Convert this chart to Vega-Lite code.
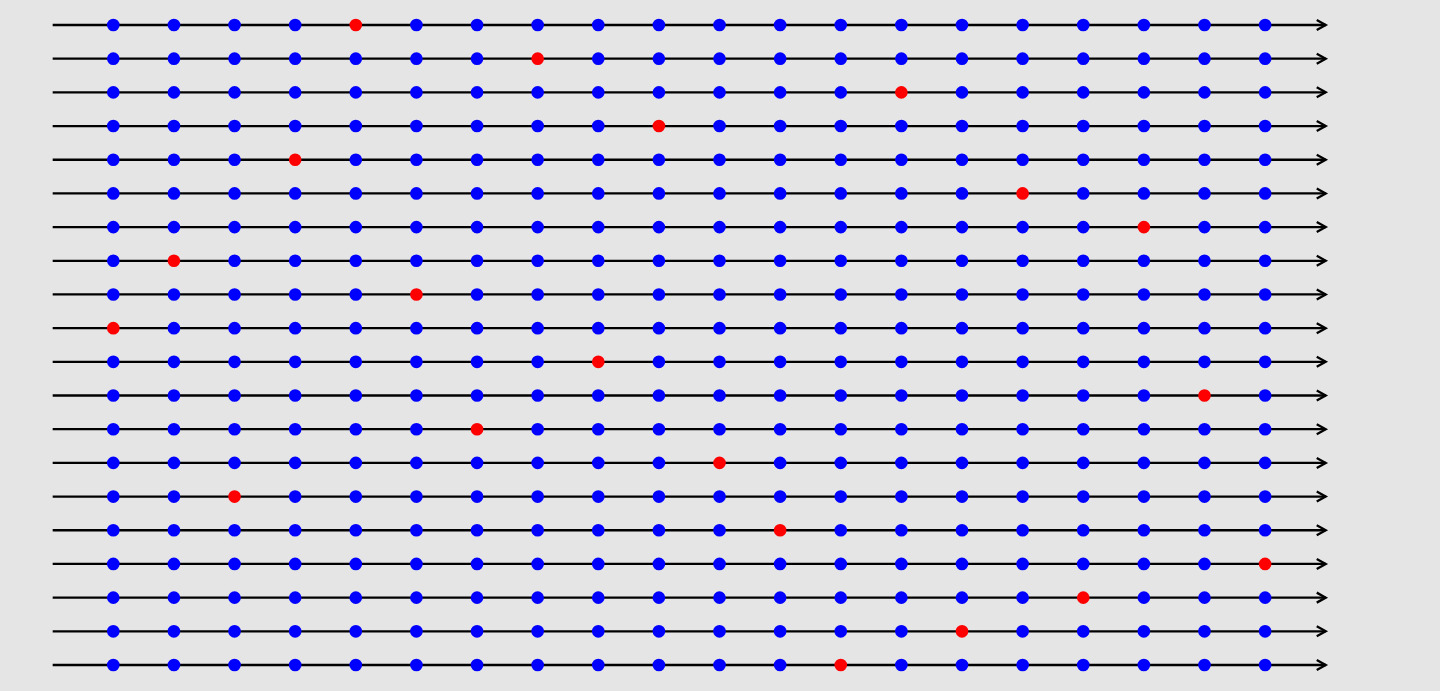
{
  "$schema": "https://vega.github.io/schema/vega-lite/v6.json",
  "width": 1440,
  "height": 691,
  "autosize": {"type": "fit", "contains": "padding"},
  "padding": 0,
  "background": "#e5e5e5",
  "config": {"view": {"stroke": null, "fill": "#e5e5e5"}},
  "datasets": {
    "lines": [{"r":1},{"r":2},{"r":3},{"r":4},{"r":5},{"r":6},{"r":7},{"r":8},{"r":9},{"r":10},{"r":11},{"r":12},{"r":13},{"r":14},{"r":15},{"r":16},{"r":17},{"r":18},{"r":19},{"r":20}],
    "pts": [
{"r":1,"c":1,"k":"b"},{"r":1,"c":2,"k":"b"},{"r":1,"c":3,"k":"b"},{"r":1,"c":4,"k":"b"},{"r":1,"c":5,"k":"r"},{"r":1,"c":6,"k":"b"},{"r":1,"c":7,"k":"b"},{"r":1,"c":8,"k":"b"},{"r":1,"c":9,"k":"b"},{"r":1,"c":10,"k":"b"},{"r":1,"c":11,"k":"b"},{"r":1,"c":12,"k":"b"},{"r":1,"c":13,"k":"b"},{"r":1,"c":14,"k":"b"},{"r":1,"c":15,"k":"b"},{"r":1,"c":16,"k":"b"},{"r":1,"c":17,"k":"b"},{"r":1,"c":18,"k":"b"},{"r":1,"c":19,"k":"b"},{"r":1,"c":20,"k":"b"},
{"r":2,"c":1,"k":"b"},{"r":2,"c":2,"k":"b"},{"r":2,"c":3,"k":"b"},{"r":2,"c":4,"k":"b"},{"r":2,"c":5,"k":"b"},{"r":2,"c":6,"k":"b"},{"r":2,"c":7,"k":"b"},{"r":2,"c":8,"k":"r"},{"r":2,"c":9,"k":"b"},{"r":2,"c":10,"k":"b"},{"r":2,"c":11,"k":"b"},{"r":2,"c":12,"k":"b"},{"r":2,"c":13,"k":"b"},{"r":2,"c":14,"k":"b"},{"r":2,"c":15,"k":"b"},{"r":2,"c":16,"k":"b"},{"r":2,"c":17,"k":"b"},{"r":2,"c":18,"k":"b"},{"r":2,"c":19,"k":"b"},{"r":2,"c":20,"k":"b"},
{"r":3,"c":1,"k":"b"},{"r":3,"c":2,"k":"b"},{"r":3,"c":3,"k":"b"},{"r":3,"c":4,"k":"b"},{"r":3,"c":5,"k":"b"},{"r":3,"c":6,"k":"b"},{"r":3,"c":7,"k":"b"},{"r":3,"c":8,"k":"b"},{"r":3,"c":9,"k":"b"},{"r":3,"c":10,"k":"b"},{"r":3,"c":11,"k":"b"},{"r":3,"c":12,"k":"b"},{"r":3,"c":13,"k":"b"},{"r":3,"c":14,"k":"r"},{"r":3,"c":15,"k":"b"},{"r":3,"c":16,"k":"b"},{"r":3,"c":17,"k":"b"},{"r":3,"c":18,"k":"b"},{"r":3,"c":19,"k":"b"},{"r":3,"c":20,"k":"b"},
{"r":4,"c":1,"k":"b"},{"r":4,"c":2,"k":"b"},{"r":4,"c":3,"k":"b"},{"r":4,"c":4,"k":"b"},{"r":4,"c":5,"k":"b"},{"r":4,"c":6,"k":"b"},{"r":4,"c":7,"k":"b"},{"r":4,"c":8,"k":"b"},{"r":4,"c":9,"k":"b"},{"r":4,"c":10,"k":"r"},{"r":4,"c":11,"k":"b"},{"r":4,"c":12,"k":"b"},{"r":4,"c":13,"k":"b"},{"r":4,"c":14,"k":"b"},{"r":4,"c":15,"k":"b"},{"r":4,"c":16,"k":"b"},{"r":4,"c":17,"k":"b"},{"r":4,"c":18,"k":"b"},{"r":4,"c":19,"k":"b"},{"r":4,"c":20,"k":"b"},
{"r":5,"c":1,"k":"b"},{"r":5,"c":2,"k":"b"},{"r":5,"c":3,"k":"b"},{"r":5,"c":4,"k":"r"},{"r":5,"c":5,"k":"b"},{"r":5,"c":6,"k":"b"},{"r":5,"c":7,"k":"b"},{"r":5,"c":8,"k":"b"},{"r":5,"c":9,"k":"b"},{"r":5,"c":10,"k":"b"},{"r":5,"c":11,"k":"b"},{"r":5,"c":12,"k":"b"},{"r":5,"c":13,"k":"b"},{"r":5,"c":14,"k":"b"},{"r":5,"c":15,"k":"b"},{"r":5,"c":16,"k":"b"},{"r":5,"c":17,"k":"b"},{"r":5,"c":18,"k":"b"},{"r":5,"c":19,"k":"b"},{"r":5,"c":20,"k":"b"},
{"r":6,"c":1,"k":"b"},{"r":6,"c":2,"k":"b"},{"r":6,"c":3,"k":"b"},{"r":6,"c":4,"k":"b"},{"r":6,"c":5,"k":"b"},{"r":6,"c":6,"k":"b"},{"r":6,"c":7,"k":"b"},{"r":6,"c":8,"k":"b"},{"r":6,"c":9,"k":"b"},{"r":6,"c":10,"k":"b"},{"r":6,"c":11,"k":"b"},{"r":6,"c":12,"k":"b"},{"r":6,"c":13,"k":"b"},{"r":6,"c":14,"k":"b"},{"r":6,"c":15,"k":"b"},{"r":6,"c":16,"k":"r"},{"r":6,"c":17,"k":"b"},{"r":6,"c":18,"k":"b"},{"r":6,"c":19,"k":"b"},{"r":6,"c":20,"k":"b"},
{"r":7,"c":1,"k":"b"},{"r":7,"c":2,"k":"b"},{"r":7,"c":3,"k":"b"},{"r":7,"c":4,"k":"b"},{"r":7,"c":5,"k":"b"},{"r":7,"c":6,"k":"b"},{"r":7,"c":7,"k":"b"},{"r":7,"c":8,"k":"b"},{"r":7,"c":9,"k":"b"},{"r":7,"c":10,"k":"b"},{"r":7,"c":11,"k":"b"},{"r":7,"c":12,"k":"b"},{"r":7,"c":13,"k":"b"},{"r":7,"c":14,"k":"b"},{"r":7,"c":15,"k":"b"},{"r":7,"c":16,"k":"b"},{"r":7,"c":17,"k":"b"},{"r":7,"c":18,"k":"r"},{"r":7,"c":19,"k":"b"},{"r":7,"c":20,"k":"b"},
{"r":8,"c":1,"k":"b"},{"r":8,"c":2,"k":"r"},{"r":8,"c":3,"k":"b"},{"r":8,"c":4,"k":"b"},{"r":8,"c":5,"k":"b"},{"r":8,"c":6,"k":"b"},{"r":8,"c":7,"k":"b"},{"r":8,"c":8,"k":"b"},{"r":8,"c":9,"k":"b"},{"r":8,"c":10,"k":"b"},{"r":8,"c":11,"k":"b"},{"r":8,"c":12,"k":"b"},{"r":8,"c":13,"k":"b"},{"r":8,"c":14,"k":"b"},{"r":8,"c":15,"k":"b"},{"r":8,"c":16,"k":"b"},{"r":8,"c":17,"k":"b"},{"r":8,"c":18,"k":"b"},{"r":8,"c":19,"k":"b"},{"r":8,"c":20,"k":"b"},
{"r":9,"c":1,"k":"b"},{"r":9,"c":2,"k":"b"},{"r":9,"c":3,"k":"b"},{"r":9,"c":4,"k":"b"},{"r":9,"c":5,"k":"b"},{"r":9,"c":6,"k":"r"},{"r":9,"c":7,"k":"b"},{"r":9,"c":8,"k":"b"},{"r":9,"c":9,"k":"b"},{"r":9,"c":10,"k":"b"},{"r":9,"c":11,"k":"b"},{"r":9,"c":12,"k":"b"},{"r":9,"c":13,"k":"b"},{"r":9,"c":14,"k":"b"},{"r":9,"c":15,"k":"b"},{"r":9,"c":16,"k":"b"},{"r":9,"c":17,"k":"b"},{"r":9,"c":18,"k":"b"},{"r":9,"c":19,"k":"b"},{"r":9,"c":20,"k":"b"},
{"r":10,"c":1,"k":"r"},{"r":10,"c":2,"k":"b"},{"r":10,"c":3,"k":"b"},{"r":10,"c":4,"k":"b"},{"r":10,"c":5,"k":"b"},{"r":10,"c":6,"k":"b"},{"r":10,"c":7,"k":"b"},{"r":10,"c":8,"k":"b"},{"r":10,"c":9,"k":"b"},{"r":10,"c":10,"k":"b"},{"r":10,"c":11,"k":"b"},{"r":10,"c":12,"k":"b"},{"r":10,"c":13,"k":"b"},{"r":10,"c":14,"k":"b"},{"r":10,"c":15,"k":"b"},{"r":10,"c":16,"k":"b"},{"r":10,"c":17,"k":"b"},{"r":10,"c":18,"k":"b"},{"r":10,"c":19,"k":"b"},{"r":10,"c":20,"k":"b"},
{"r":11,"c":1,"k":"b"},{"r":11,"c":2,"k":"b"},{"r":11,"c":3,"k":"b"},{"r":11,"c":4,"k":"b"},{"r":11,"c":5,"k":"b"},{"r":11,"c":6,"k":"b"},{"r":11,"c":7,"k":"b"},{"r":11,"c":8,"k":"b"},{"r":11,"c":9,"k":"r"},{"r":11,"c":10,"k":"b"},{"r":11,"c":11,"k":"b"},{"r":11,"c":12,"k":"b"},{"r":11,"c":13,"k":"b"},{"r":11,"c":14,"k":"b"},{"r":11,"c":15,"k":"b"},{"r":11,"c":16,"k":"b"},{"r":11,"c":17,"k":"b"},{"r":11,"c":18,"k":"b"},{"r":11,"c":19,"k":"b"},{"r":11,"c":20,"k":"b"},
{"r":12,"c":1,"k":"b"},{"r":12,"c":2,"k":"b"},{"r":12,"c":3,"k":"b"},{"r":12,"c":4,"k":"b"},{"r":12,"c":5,"k":"b"},{"r":12,"c":6,"k":"b"},{"r":12,"c":7,"k":"b"},{"r":12,"c":8,"k":"b"},{"r":12,"c":9,"k":"b"},{"r":12,"c":10,"k":"b"},{"r":12,"c":11,"k":"b"},{"r":12,"c":12,"k":"b"},{"r":12,"c":13,"k":"b"},{"r":12,"c":14,"k":"b"},{"r":12,"c":15,"k":"b"},{"r":12,"c":16,"k":"b"},{"r":12,"c":17,"k":"b"},{"r":12,"c":18,"k":"b"},{"r":12,"c":19,"k":"r"},{"r":12,"c":20,"k":"b"},
{"r":13,"c":1,"k":"b"},{"r":13,"c":2,"k":"b"},{"r":13,"c":3,"k":"b"},{"r":13,"c":4,"k":"b"},{"r":13,"c":5,"k":"b"},{"r":13,"c":6,"k":"b"},{"r":13,"c":7,"k":"r"},{"r":13,"c":8,"k":"b"},{"r":13,"c":9,"k":"b"},{"r":13,"c":10,"k":"b"},{"r":13,"c":11,"k":"b"},{"r":13,"c":12,"k":"b"},{"r":13,"c":13,"k":"b"},{"r":13,"c":14,"k":"b"},{"r":13,"c":15,"k":"b"},{"r":13,"c":16,"k":"b"},{"r":13,"c":17,"k":"b"},{"r":13,"c":18,"k":"b"},{"r":13,"c":19,"k":"b"},{"r":13,"c":20,"k":"b"},
{"r":14,"c":1,"k":"b"},{"r":14,"c":2,"k":"b"},{"r":14,"c":3,"k":"b"},{"r":14,"c":4,"k":"b"},{"r":14,"c":5,"k":"b"},{"r":14,"c":6,"k":"b"},{"r":14,"c":7,"k":"b"},{"r":14,"c":8,"k":"b"},{"r":14,"c":9,"k":"b"},{"r":14,"c":10,"k":"b"},{"r":14,"c":11,"k":"r"},{"r":14,"c":12,"k":"b"},{"r":14,"c":13,"k":"b"},{"r":14,"c":14,"k":"b"},{"r":14,"c":15,"k":"b"},{"r":14,"c":16,"k":"b"},{"r":14,"c":17,"k":"b"},{"r":14,"c":18,"k":"b"},{"r":14,"c":19,"k":"b"},{"r":14,"c":20,"k":"b"},
{"r":15,"c":1,"k":"b"},{"r":15,"c":2,"k":"b"},{"r":15,"c":3,"k":"r"},{"r":15,"c":4,"k":"b"},{"r":15,"c":5,"k":"b"},{"r":15,"c":6,"k":"b"},{"r":15,"c":7,"k":"b"},{"r":15,"c":8,"k":"b"},{"r":15,"c":9,"k":"b"},{"r":15,"c":10,"k":"b"},{"r":15,"c":11,"k":"b"},{"r":15,"c":12,"k":"b"},{"r":15,"c":13,"k":"b"},{"r":15,"c":14,"k":"b"},{"r":15,"c":15,"k":"b"},{"r":15,"c":16,"k":"b"},{"r":15,"c":17,"k":"b"},{"r":15,"c":18,"k":"b"},{"r":15,"c":19,"k":"b"},{"r":15,"c":20,"k":"b"},
{"r":16,"c":1,"k":"b"},{"r":16,"c":2,"k":"b"},{"r":16,"c":3,"k":"b"},{"r":16,"c":4,"k":"b"},{"r":16,"c":5,"k":"b"},{"r":16,"c":6,"k":"b"},{"r":16,"c":7,"k":"b"},{"r":16,"c":8,"k":"b"},{"r":16,"c":9,"k":"b"},{"r":16,"c":10,"k":"b"},{"r":16,"c":11,"k":"b"},{"r":16,"c":12,"k":"r"},{"r":16,"c":13,"k":"b"},{"r":16,"c":14,"k":"b"},{"r":16,"c":15,"k":"b"},{"r":16,"c":16,"k":"b"},{"r":16,"c":17,"k":"b"},{"r":16,"c":18,"k":"b"},{"r":16,"c":19,"k":"b"},{"r":16,"c":20,"k":"b"},
{"r":17,"c":1,"k":"b"},{"r":17,"c":2,"k":"b"},{"r":17,"c":3,"k":"b"},{"r":17,"c":4,"k":"b"},{"r":17,"c":5,"k":"b"},{"r":17,"c":6,"k":"b"},{"r":17,"c":7,"k":"b"},{"r":17,"c":8,"k":"b"},{"r":17,"c":9,"k":"b"},{"r":17,"c":10,"k":"b"},{"r":17,"c":11,"k":"b"},{"r":17,"c":12,"k":"b"},{"r":17,"c":13,"k":"b"},{"r":17,"c":14,"k":"b"},{"r":17,"c":15,"k":"b"},{"r":17,"c":16,"k":"b"},{"r":17,"c":17,"k":"b"},{"r":17,"c":18,"k":"b"},{"r":17,"c":19,"k":"b"},{"r":17,"c":20,"k":"r"},
{"r":18,"c":1,"k":"b"},{"r":18,"c":2,"k":"b"},{"r":18,"c":3,"k":"b"},{"r":18,"c":4,"k":"b"},{"r":18,"c":5,"k":"b"},{"r":18,"c":6,"k":"b"},{"r":18,"c":7,"k":"b"},{"r":18,"c":8,"k":"b"},{"r":18,"c":9,"k":"b"},{"r":18,"c":10,"k":"b"},{"r":18,"c":11,"k":"b"},{"r":18,"c":12,"k":"b"},{"r":18,"c":13,"k":"b"},{"r":18,"c":14,"k":"b"},{"r":18,"c":15,"k":"b"},{"r":18,"c":16,"k":"b"},{"r":18,"c":17,"k":"r"},{"r":18,"c":18,"k":"b"},{"r":18,"c":19,"k":"b"},{"r":18,"c":20,"k":"b"},
{"r":19,"c":1,"k":"b"},{"r":19,"c":2,"k":"b"},{"r":19,"c":3,"k":"b"},{"r":19,"c":4,"k":"b"},{"r":19,"c":5,"k":"b"},{"r":19,"c":6,"k":"b"},{"r":19,"c":7,"k":"b"},{"r":19,"c":8,"k":"b"},{"r":19,"c":9,"k":"b"},{"r":19,"c":10,"k":"b"},{"r":19,"c":11,"k":"b"},{"r":19,"c":12,"k":"b"},{"r":19,"c":13,"k":"b"},{"r":19,"c":14,"k":"b"},{"r":19,"c":15,"k":"r"},{"r":19,"c":16,"k":"b"},{"r":19,"c":17,"k":"b"},{"r":19,"c":18,"k":"b"},{"r":19,"c":19,"k":"b"},{"r":19,"c":20,"k":"b"},
{"r":20,"c":1,"k":"b"},{"r":20,"c":2,"k":"b"},{"r":20,"c":3,"k":"b"},{"r":20,"c":4,"k":"b"},{"r":20,"c":5,"k":"b"},{"r":20,"c":6,"k":"b"},{"r":20,"c":7,"k":"b"},{"r":20,"c":8,"k":"b"},{"r":20,"c":9,"k":"b"},{"r":20,"c":10,"k":"b"},{"r":20,"c":11,"k":"b"},{"r":20,"c":12,"k":"b"},{"r":20,"c":13,"k":"r"},{"r":20,"c":14,"k":"b"},{"r":20,"c":15,"k":"b"},{"r":20,"c":16,"k":"b"},{"r":20,"c":17,"k":"b"},{"r":20,"c":18,"k":"b"},{"r":20,"c":19,"k":"b"},{"r":20,"c":20,"k":"b"}
    ]
  },
  "layer": [
    {
      "data": {"name": "lines"},
      "mark": {"type": "rule", "color": "#000000", "strokeWidth": 2.3},
      "encoding": {
        "x": {"datum": 0, "type": "quantitative", "scale": {"domain": [-0.869, 22.885], "nice": false, "zero": false}, "axis": null},
        "x2": {"datum": 21},
        "y": {"field": "r", "type": "quantitative", "scale": {"domain": [0.258, 20.772], "nice": false, "zero": false, "reverse": true}, "axis": null}
      }
    },
    {
      "data": {"name": "lines"},
      "mark": {"type": "point", "shape": "M -1.8 -1 L 0 0 L -1.8 1", "filled": false, "stroke": "#000000", "strokeWidth": 2.3, "size": 100, "opacity": 1},
      "encoding": {
        "x": {"datum": 21, "type": "quantitative"},
        "y": {"field": "r", "type": "quantitative"}
      }
    },
    {
      "data": {"name": "pts"},
      "mark": {"type": "circle", "size": 160, "opacity": 1},
      "encoding": {
        "x": {"field": "c", "type": "quantitative"},
        "y": {"field": "r", "type": "quantitative"},
        "color": {"field": "k", "type": "nominal", "scale": {"domain": ["b", "r"], "range": ["#0000ff", "#ff0000"]}, "legend": null}
      }
    }
  ]
}
